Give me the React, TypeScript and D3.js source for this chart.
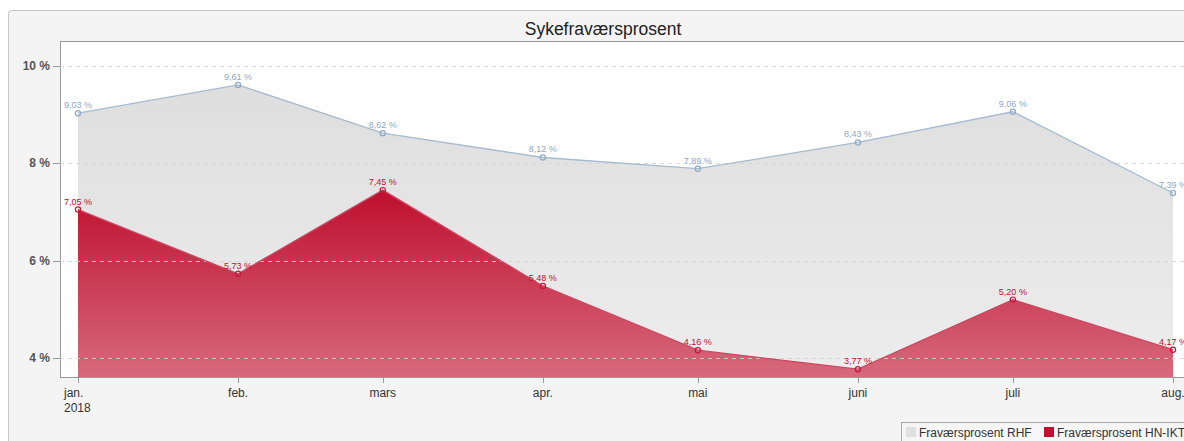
import * as React from 'react'
import { useEffect, useRef } from 'react'
import * as d3 from 'd3'

const months = ['2018-01-01', '2018-02-01', '2018-03-01', '2018-04-01', '2018-05-01', '2018-06-01', '2018-07-01', '2018-08-01']
const monthLabels = ['jan.', 'feb.', 'mars', 'apr.', 'mai', 'juni', 'juli', 'aug.']
const rhfValues = [9.03, 9.61, 8.62, 8.12, 7.89, 8.43, 9.06, 7.39]
const hnIktValues = [7.05, 5.73, 7.45, 5.48, 4.16, 3.77, 5.20, 4.17]
const yTicks = [4, 6, 8, 10]
const seriesNames = ['Fraværsprosent RHF', 'Fraværsprosent HN-IKT']

const width = 1184
const height = 441

const App = () => {
    const chartRef = useRef<SVGSVGElement>(null)

    useEffect((): void => {
        const svg = d3.select(chartRef.current)
        svg.selectAll('*').remove()

        const plotLeft = 60
        const plotTop = 41
        const plotBottom = 377

        const dates = months.map((m) => new Date(m + 'T00:00:00Z'))
        const xScale = d3.scaleUtc()
                        .domain([dates[0], dates[dates.length - 1]])
                        .range([78, 1173])
        const yScale = d3.scaleLinear()
                        .domain([4, 10])
                        .range([358, 66])

        const fmt = (v: number) => v.toFixed(2).replace('.', ',') + ' %'

        const defs = svg.append('defs')
        const redGrad = defs.append('linearGradient')
                        .attr('id', 'redGrad')
                        .attr('x1', 0).attr('y1', 0).attr('x2', 0).attr('y2', 1)
        redGrad.append('stop').attr('offset', '0%').attr('stop-color', '#bf0f2e')
        redGrad.append('stop').attr('offset', '100%').attr('stop-color', '#d66a7c')
        const grayGrad = defs.append('linearGradient')
                        .attr('id', 'grayGrad')
                        .attr('x1', 0).attr('y1', 0).attr('x2', 0).attr('y2', 1)
        grayGrad.append('stop').attr('offset', '0%').attr('stop-color', '#dedede')
        grayGrad.append('stop').attr('offset', '100%').attr('stop-color', '#ededed')
        defs.append('clipPath').attr('id', 'plotClip')
            .append('rect')
            .attr('x', plotLeft).attr('y', plotTop)
            .attr('width', width - plotLeft).attr('height', plotBottom - plotTop)

        // outer panel
        svg.append('rect')
            .attr('x', 8.5).attr('y', 10.5)
            .attr('width', 1200).attr('height', 460)
            .attr('rx', 3)
            .attr('fill', '#f4f4f4')
            .attr('stroke', '#c6c6c6')

        svg.append('text')
            .attr('x', 603)
            .attr('y', 35)
            .style('text-anchor', 'middle')
            .style('font-size', '17.5px')
            .style('font-family', 'Liberation Sans, Arial, sans-serif')
            .attr('fill', '#222')
            .text('Sykefraværsprosent')

        // plot area
        svg.append('rect')
            .attr('x', plotLeft + 0.5).attr('y', plotTop + 0.5)
            .attr('width', 1200).attr('height', plotBottom - plotTop)
            .attr('fill', '#ffffff')
            .attr('stroke', '#9a9a9a')

        const plot = svg.append('g').attr('clip-path', 'url(#plotClip)')

        const area = d3.area<number>()
                        .x((d, i) => xScale(dates[i]))
                        .y0(plotBottom)
                        .y1((d) => yScale(d))
        const line = d3.line<number>()
                        .x((d, i) => xScale(dates[i]))
                        .y((d) => yScale(d))

        plot.append('path')
            .datum(rhfValues)
            .attr('d', area)
            .attr('fill', 'url(#grayGrad)')

        plot.append('path')
            .datum(hnIktValues)
            .attr('d', area)
            .attr('fill', 'url(#redGrad)')

        // grid lines
        plot.selectAll('.grid')
            .data(yTicks)
            .enter()
            .append('line')
            .attr('x1', plotLeft).attr('x2', width)
            .attr('y1', (d) => Math.round(yScale(d)) + 0.5)
            .attr('y2', (d) => Math.round(yScale(d)) + 0.5)
            .attr('stroke', '#d2d2d2')
            .attr('stroke-opacity', 0.85)
            .attr('stroke-dasharray', '4,4')

        plot.append('path')
            .datum(rhfValues)
            .attr('d', line)
            .attr('fill', 'none')
            .attr('stroke', '#a3bbd3')
            .attr('stroke-width', 1.3)

        plot.append('path')
            .datum(hnIktValues)
            .attr('d', line)
            .attr('fill', 'none')
            .attr('stroke', '#cf4560')
            .attr('stroke-width', 1.3)

        const drawPoints = (values: number[], stroke: string, labelColor: string) => {
            plot.append('g')
                .selectAll('circle')
                .data(values)
                .enter()
                .append('circle')
                .attr('cx', (d, i) => xScale(dates[i]))
                .attr('cy', (d) => yScale(d))
                .attr('r', 2.6)
                .attr('fill', 'none')
                .attr('stroke', stroke)
                .attr('stroke-width', 1.2)
            plot.append('g')
                .selectAll('text')
                .data(values)
                .enter()
                .append('text')
                .attr('x', (d, i) => xScale(dates[i]))
                .attr('y', (d) => yScale(d) - 5)
                .style('text-anchor', 'middle')
                .style('font-size', '9px')
                .style('font-family', 'Liberation Sans, Arial, sans-serif')
                .attr('fill', labelColor)
                .text((d) => fmt(d))
        }
        drawPoints(rhfValues, '#8fa9c6', '#8ea8c6')
        drawPoints(hnIktValues, '#c4183a', '#c0102f')

        // y axis
        const yAxisG = svg.append('g')
        yAxisG.selectAll('line')
            .data(yTicks)
            .enter()
            .append('line')
            .attr('x1', 53).attr('x2', plotLeft)
            .attr('y1', (d) => Math.round(yScale(d)) + 0.5)
            .attr('y2', (d) => Math.round(yScale(d)) + 0.5)
            .attr('stroke', '#9a9a9a')
        yAxisG.selectAll('text')
            .data(yTicks)
            .enter()
            .append('text')
            .attr('x', 50)
            .attr('y', (d) => yScale(d) + 4)
            .style('text-anchor', 'end')
            .style('font-size', '12px')
            .style('font-weight', 'bold')
            .style('font-family', 'Liberation Sans, Arial, sans-serif')
            .attr('fill', '#555')
            .text((d) => `${d} %`)

        // x axis
        const xAxisG = svg.append('g')
        xAxisG.selectAll('line')
            .data(dates)
            .enter()
            .append('line')
            .attr('x1', (d) => Math.round(xScale(d)) + 0.5)
            .attr('x2', (d) => Math.round(xScale(d)) + 0.5)
            .attr('y1', plotBottom).attr('y2', plotBottom + 6)
            .attr('stroke', '#9a9a9a')
        xAxisG.selectAll('text')
            .data(dates)
            .enter()
            .append('text')
            .attr('x', (d, i) => i === 0 ? 64 : xScale(d))
            .attr('y', 397)
            .style('text-anchor', (d, i) => i === 0 ? 'start' : 'middle')
            .style('font-size', '12px')
            .style('font-family', 'Liberation Sans, Arial, sans-serif')
            .attr('fill', '#333')
            .text((d, i) => monthLabels[i])
        xAxisG.append('text')
            .attr('x', 64)
            .attr('y', 412)
            .style('font-size', '12px')
            .style('font-family', 'Liberation Sans, Arial, sans-serif')
            .attr('fill', '#333')
            .text('2018')

        // legend
        const legend = svg.append('g')
        legend.append('rect')
            .attr('x', 901.5).attr('y', 422.5)
            .attr('width', 320).attr('height', 30)
            .attr('fill', '#f6f6f6')
            .attr('stroke', '#a8a8a8')
        const legendColors = ['#e0e0e0', '#c0102f']
        const legendX = [906, 1044]
        seriesNames.forEach((name, i) => {
            legend.append('rect')
                .attr('x', legendX[i]).attr('y', 427)
                .attr('width', 10).attr('height', 10)
                .attr('fill', legendColors[i])
            legend.append('text')
                .attr('x', legendX[i] + 13)
                .attr('y', 437)
                .style('font-size', '12px')
                .style('font-family', 'Liberation Sans, Arial, sans-serif')
                .attr('fill', '#333')
                .text(name)
        })
    }, [])

    return (
        <svg ref={chartRef} width={width} height={height}
             style={{ position: 'absolute', left: 0, top: 0, display: 'block' }}></svg>
    )
}

export default App
